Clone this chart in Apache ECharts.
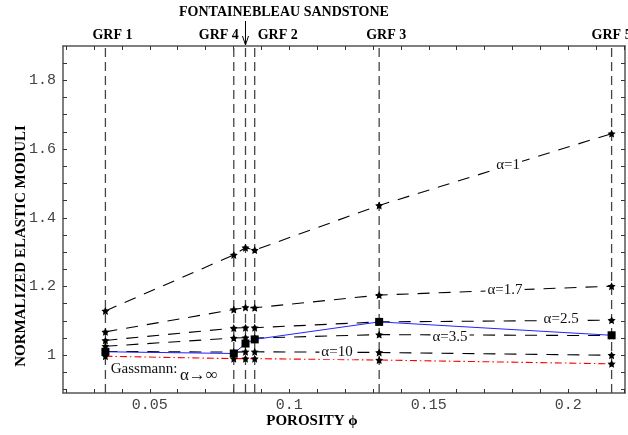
<!DOCTYPE html>
<html>
<head>
<meta charset="utf-8">
<script src="https://cdn.jsdelivr.net/npm/echarts@6/dist/echarts.min.js"></script>
<style>
  html, body { margin: 0; padding: 0; background: #fff; }
  #chart { width: 628px; height: 435px; }
</style>
</head>
<body>
<div id="chart"></div>
<script>
// porosity of each sample, in order GRF1, GRF4, Fontainebleau, GRF2, GRF3, GRF5
const porosity = [0.0341, 0.0801, 0.0843, 0.0876, 0.1322, 0.2155];
const alpha1 = [1.129, 1.292, 1.313, 1.306, 1.436, 1.645];
const alpha17 = [1.068, 1.133, 1.139, 1.138, 1.175, 1.201];
const alpha25 = [1.043, 1.079, 1.080, 1.080, 1.097, 1.102];
const alpha35 = [1.026, 1.050, 1.051, 1.050, 1.060, 1.057];
const alpha10 = [1.011, 1.009, 1.010, 1.010, 1.008, 1.000];
const gassmann = [0.997, 0.990, 0.990, 0.990, 0.986, 0.975];
const measured = [1.010, 1.005, 1.034, 1.046, 1.097, 1.058];

// vertical sample lines
const grfNames = ['GRF 1', 'GRF 4', 'GRF 2', 'GRF 3', 'GRF 5'];
const grfPorosity = [0.0341, 0.0801, 0.0876, 0.1322, 0.2155];
const fontainebleau = 0.0843;

// axis ticks
const xTicks = [0.02, 0.03, 0.04, 0.05, 0.06, 0.07, 0.08, 0.09, 0.1, 0.11, 0.12, 0.13, 0.14, 0.15, 0.16, 0.17, 0.18, 0.19, 0.2, 0.21, 0.22];
const xLabels = [0.05, 0.1, 0.15, 0.2];
const yTicks = [0.9, 0.95, 1, 1.05, 1.1, 1.15, 1.2, 1.25, 1.3, 1.35, 1.4, 1.45, 1.5, 1.55, 1.6, 1.65, 1.7, 1.75, 1.8, 1.85];
const yLabels = [1, 1.2, 1.4, 1.6, 1.8];

const X_MIN = 0.0189, X_MAX = 0.2203;
const Y_MIN = 0.89, Y_MAX = 1.9;

const STAR = 'path://M0,-10L2.9,-4L9.5,-3.1L4.7,1.5L5.9,8.1L0,5L-5.9,8.1L-4.7,1.5L-9.5,-3.1L-2.9,-4Z';
const AXIS_COLOR = '#555';
const serif = '"Liberation Serif", "DejaVu Serif", serif';
const mono = '"Liberation Mono", "DejaVu Sans Mono", monospace';

const chart = echarts.init(document.getElementById('chart'));

function pairs(ys) {
    return porosity.map((x, i) => [x, ys[i]]);
}

function modelLine(ys) {
    return {
        type: 'line',
        data: pairs(ys),
        symbol: STAR,
        symbolSize: 8,
        itemStyle: { color: '#000' },
        lineStyle: { color: '#000', width: 1.1, type: [12, 9] },
        z: 3
    };
}

// full-height dashed line at one porosity
function sampleLine(x) {
    return {
        type: 'line',
        data: [[x, Y_MIN], [x, Y_MAX]],
        symbol: 'none',
        silent: true,
        lineStyle: { color: '#444', width: 1.3, type: [9, 5] },
        z: 1
    };
}

function axisX(pos, labels) {
    return {
        type: 'value',
        position: pos,
        min: X_MIN,
        max: X_MAX,
        axisLine: { lineStyle: { color: AXIS_COLOR, width: 1.5 } },
        axisTick: { inside: true, length: 4, customValues: xTicks, lineStyle: { color: '#333' } },
        axisLabel: labels ? {
            customValues: xLabels, margin: 5,
            fontFamily: mono, fontSize: 15, color: '#444'
        } : { show: false },
        splitLine: { show: false }
    };
}

function axisY(pos, labels) {
    return {
        type: 'value',
        position: pos,
        min: Y_MIN,
        max: Y_MAX,
        axisLine: { show: true, lineStyle: { color: AXIS_COLOR, width: 1.5 } },
        axisTick: { show: true, inside: true, length: 4, customValues: yTicks, lineStyle: { color: '#333' } },
        axisLabel: labels ? {
            customValues: yLabels, margin: 7,
            fontFamily: mono, fontSize: 15, color: '#444'
        } : { show: false },
        splitLine: { show: false }
    };
}

chart.setOption({
    animation: false,
    grid: { left: 63, right: 3, top: 46, bottom: 42 },
    xAxis: [axisX('bottom', true), axisX('top', false)],
    yAxis: [axisY('left', true), axisY('right', false)],
    series: grfPorosity.concat([fontainebleau]).map(sampleLine).concat([
        modelLine(alpha1),
        modelLine(alpha17),
        modelLine(alpha25),
        modelLine(alpha35),
        modelLine(alpha10),
        {
            type: 'line',
            data: pairs(gassmann),
            symbol: STAR,
            symbolSize: 8,
            itemStyle: { color: '#000' },
            lineStyle: { color: '#f00', width: 1.1, type: [7, 3, 1.5, 3] },
            z: 3
        },
        {
            type: 'line',
            data: pairs(measured),
            symbol: 'rect',
            symbolSize: 8,
            itemStyle: { color: '#000' },
            lineStyle: { color: '#2222ff', width: 1 },
            z: 5
        }
    ])
});

// annotations, anchored in data coordinates
const px = v => chart.convertToPixel({ xAxisIndex: 0 }, v);
const py = v => chart.convertToPixel({ yAxisIndex: 0 }, v);
const graphics = [];

const grfOffsets = [7, -15, 23, 7, 0];
grfNames.forEach((name, i) => {
    graphics.push({
        type: 'text', x: px(grfPorosity[i]) + grfOffsets[i], y: 35,
        style: { text: name, font: 'bold 14px ' + serif, fill: '#000', align: 'center', verticalAlign: 'middle' }
    });
});

graphics.push({
    type: 'text', x: 284, y: 12,
    style: { text: 'FONTAINEBLEAU SANDSTONE', font: 'bold 14px ' + serif, fill: '#000', align: 'center', verticalAlign: 'middle' }
});
const ax = px(fontainebleau);
graphics.push({ type: 'line', shape: { x1: ax, y1: 21, x2: ax, y2: 45 }, style: { stroke: '#000', lineWidth: 1 } });
graphics.push({ type: 'polyline', shape: { points: [[ax - 3, 36], [ax, 45], [ax + 3, 36]] }, style: { stroke: '#000', lineWidth: 1, fill: null } });

const alphaLabels = [
    ['α=1', 0.1784, 1.553],
    ['α=1.7', 0.1773, 1.189],
    ['α=2.5', 0.1974, 1.105],
    ['α=3.5', 0.1576, 1.053],
    ['α=10', 0.1171, 1.010]
];
alphaLabels.forEach(([t, x, y]) => {
    graphics.push({
        type: 'text', x: px(x), y: py(y), z: 10,
        style: {
            text: t, font: '15px ' + serif, fill: '#111', align: 'center', verticalAlign: 'middle',
            backgroundColor: '#fff', padding: [0, 2]
        }
    });
});

graphics.push({
    type: 'text', x: px(0.036), y: py(0.959),
    style: { text: 'Gassmann:', font: '15px ' + serif, fill: '#111', align: 'left', verticalAlign: 'middle' }
});
graphics.push({
    type: 'text', x: px(0.0608), y: py(0.942),
    style: { text: 'α→∞', font: '17px ' + serif, fill: '#111', align: 'left', verticalAlign: 'middle' }
});

graphics.push({
    type: 'text', x: 21, y: 246, rotation: Math.PI / 2,
    style: { text: 'NORMALIZED ELASTIC MODULI', font: 'bold 15px ' + serif, fill: '#000', align: 'center', verticalAlign: 'middle' }
});
graphics.push({
    type: 'text', x: 312, y: 421,
    style: { text: 'POROSITY ϕ', font: 'bold 15px ' + serif, fill: '#000', align: 'center', verticalAlign: 'middle' }
});

chart.setOption({ graphic: graphics });
</script>
</body>
</html>
